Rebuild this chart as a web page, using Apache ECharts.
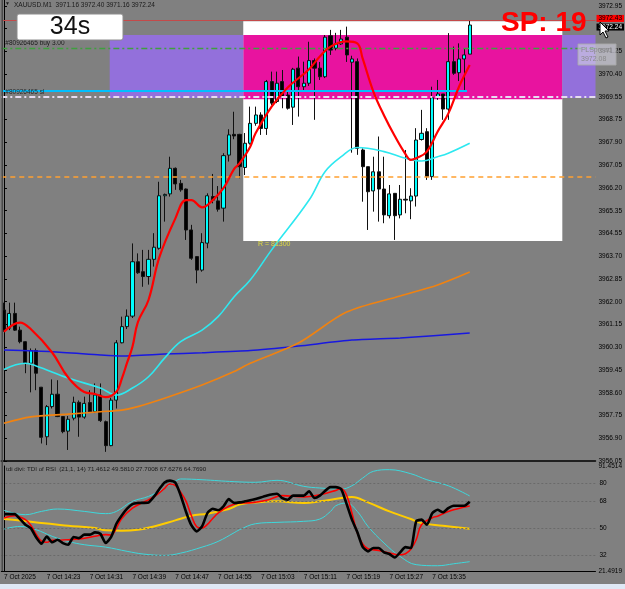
<!DOCTYPE html>
<html>
<head>
<meta charset="utf-8">
<script src="https://cdn.jsdelivr.net/npm/echarts@6/dist/echarts.min.js"></script>
<style>
html,body{margin:0;padding:0;background:#808080;}
#chart{width:625px;height:589px;}
</style>
</head>
<body>
<div id="chart"></div>
<script>
var BASE = 3956.05;      // lowest price label, used as zero of the price axis
var STEP = 0.845;        // price distance between labels
var SLOTS = 111;         // 88 bars + empty space on the right (chart shift)

var priceTicks = ['3956.05','3956.90','3957.75','3958.60','3959.45','3960.30','3961.15','3962.00',
  '3962.85','3963.70','3964.55','3965.35','3966.20','3967.05','3967.90','3968.75','3969.55',
  '3970.40','3971.25','3972.10','3972.95'];
var timeTicks = ['7 Oct 2025','7 Oct 14:23','7 Oct 14:31','7 Oct 14:39','7 Oct 14:47','7 Oct 14:55',
  '7 Oct 15:03','7 Oct 15:11','7 Oct 15:19','7 Oct 15:27','7 Oct 15:35'];

// M1 bars: open, high, low, close
var bars = [
  [3961.66,3961.93,3960.85,3960.91],[3960.98,3961.93,3960.91,3961.53],[3961.53,3961.93,3960.88,3960.91],
  [3960.91,3961.04,3960.42,3960.48],[3960.48,3960.50,3959.31,3959.68],[3959.68,3960.23,3958.60,3960.15],
  [3960.15,3960.23,3958.68,3959.31],[3958.79,3958.80,3956.70,3956.93],[3956.95,3958.13,3956.64,3958.07],
  [3958.07,3959.08,3958.00,3958.53],[3958.53,3959.05,3957.68,3957.70],[3957.70,3957.72,3957.08,3957.14],
  [3957.16,3957.72,3956.46,3957.60],[3957.64,3958.44,3957.56,3958.23],[3958.23,3958.30,3956.95,3957.68],
  [3957.68,3958.44,3957.62,3958.19],[3958.22,3958.68,3957.85,3957.88],[3957.88,3958.93,3957.83,3958.50],
  [3958.50,3958.93,3957.50,3957.55],[3957.51,3957.55,3956.39,3956.62],[3956.62,3958.40,3956.60,3958.31],
  [3958.31,3960.54,3958.00,3960.44],[3960.44,3961.41,3960.42,3961.04],[3961.04,3961.68,3960.95,3961.43],
  [3961.43,3964.13,3961.36,3963.45],[3963.45,3963.76,3963.00,3963.04],[3963.08,3963.89,3962.52,3962.90],
  [3962.90,3963.89,3962.60,3963.54],[3963.54,3964.51,3963.27,3963.99],[3963.95,3966.42,3963.90,3965.90],
  [3965.90,3965.98,3964.94,3965.95],[3965.97,3967.35,3965.87,3966.92],[3966.92,3966.95,3966.12,3966.34],
  [3966.36,3966.49,3966.05,3966.12],[3966.15,3966.17,3964.26,3964.63],[3964.63,3964.82,3963.52,3963.58],
  [3963.64,3963.66,3962.65,3963.14],[3963.14,3964.51,3963.08,3964.16],[3964.14,3965.99,3963.95,3965.90],
  [3965.87,3966.71,3965.62,3965.74],[3965.71,3966.26,3965.31,3965.40],[3965.44,3967.48,3964.94,3967.39],
  [3967.41,3968.37,3967.17,3968.16],[3968.18,3969.02,3968.00,3968.12],[3968.18,3968.20,3966.55,3966.98],
  [3966.95,3968.23,3966.67,3967.85],[3967.85,3969.21,3967.80,3968.59],[3968.59,3969.21,3968.50,3968.90],
  [3968.90,3969.00,3968.16,3968.40],[3968.40,3970.20,3968.16,3970.14],[3970.14,3970.51,3969.27,3969.34],
  [3969.40,3970.51,3969.34,3970.08],[3970.14,3970.57,3969.15,3969.58],[3969.64,3969.77,3969.10,3969.15],
  [3969.19,3970.65,3968.53,3970.60],[3970.64,3971.07,3968.84,3969.95],[3969.95,3970.88,3969.77,3970.08],
  [3970.08,3971.62,3969.98,3970.92],[3970.92,3971.00,3968.72,3970.64],[3970.64,3970.87,3970.20,3970.32],
  [3970.32,3971.87,3970.27,3971.79],[3971.84,3972.06,3971.13,3971.31],[3971.38,3971.95,3971.30,3971.54],
  [3971.54,3972.06,3971.50,3971.72],[3971.79,3972.18,3970.87,3971.13],[3970.86,3971.10,3967.50,3970.98],
  [3970.88,3971.00,3967.42,3967.66],[3967.60,3967.66,3965.68,3966.98],[3966.98,3966.98,3964.63,3966.05],
  [3966.08,3967.35,3965.31,3966.79],[3966.79,3968.10,3964.94,3966.15],[3966.15,3967.35,3964.88,3965.19],
  [3965.16,3966.30,3965.06,3965.97],[3965.99,3965.99,3964.26,3965.16],[3965.19,3966.30,3965.06,3965.77],
  [3965.77,3967.60,3965.25,3965.74],[3965.71,3966.18,3965.03,3965.89],[3965.89,3968.41,3965.50,3967.97],
  [3967.99,3969.09,3967.95,3968.22],[3968.28,3968.41,3966.49,3966.61],[3966.61,3969.95,3966.49,3969.54],
  [3969.56,3970.20,3969.46,3969.68],[3969.68,3969.68,3968.72,3969.12],[3969.12,3971.94,3968.72,3970.88],
  [3970.88,3971.44,3970.39,3970.45],[3970.47,3971.56,3970.16,3970.98],[3970.98,3971.38,3969.83,3971.13],
  [3971.16,3972.40,3971.16,3972.24]
];

// moving averages: [bar, price]
var maRed = [[0,3960.85],[3,3961.19],[5,3960.95],[9,3960.08],[12,3959.15],[15,3958.61],[17,3958.54],
  [19,3958.42],[21,3958.62],[22,3959.10],[23,3959.70],[24,3960.29],[25,3961.20],[27,3962.03],[29,3963.60],
  [32,3965.05],[34,3965.74],[35,3965.74],[37,3965.47],[39,3965.74],[41,3966.18],[43,3966.90],[44,3967.10],
  [46,3967.72],[47,3968.22],[50,3969.21],[53,3969.92],[57,3970.60],[59,3971.07],[61,3971.44],[64,3971.63],
  [66,3971.56],[67,3971.00],[69,3969.77],[71,3968.88],[73,3968.12],[75,3967.45],[76,3967.23],[77,3967.29],
  [79,3967.54],[81,3968.28],[83,3968.95],[85,3969.95],[87,3970.76]];
var maCyan = [[0,3959.45],[4,3959.68],[6,3959.58],[12,3959.13],[18,3958.76],[21,3958.50],[24,3958.76],
  [27,3959.18],[30,3959.87],[33,3960.48],[37,3960.91],[40,3961.41],[43,3962.15],[46,3962.77],[50,3963.89],
  [57,3965.74],[60,3966.80],[63,3967.35],[66,3967.69],[71,3967.54],[75,3967.29],[78,3967.19],[81,3967.35],
  [83,3967.48],[87,3967.85]];
var maOrange = [[0,3957.45],[5,3957.69],[12,3957.79],[18,3957.88],[22,3957.94],[25,3958.07],[30,3958.38],
  [37,3958.87],[43,3959.37],[46,3959.68],[55,3960.43],[64,3961.58],[74,3962.18],[81,3962.59],[87,3963.07]];
var maBlue = [[0,3960.17],[9,3960.11],[18,3959.99],[22,3959.95],[30,3960.02],[37,3960.07],[46,3960.15],
  [55,3960.32],[65,3960.54],[74,3960.62],[87,3960.80]];

// drawn objects: [fromBar, toBar, lowPrice, highPrice]
var zoneWhite = [44.7, 104.3, 3964.22, 3972.38];
var zonePink = [44.7, 104.3, 3969.48, 3971.87];
var zonePurpleL = [19.75, 44.7, 3969.53, 3971.87];
var zonePurpleR = [104.3, 110.5, 3969.53, 3971.87];
var askPrice = 3972.43, bidPrice = 3972.24, buyPrice = 3971.38, slPrice = 3969.57;
var blueLevel = [-0.5, 86.5, 3969.80];
var orangeLevel = 3966.60;

// TDI of RSI (21,1,14): [bar, value]
var tdiPrice = [[0,59.4],[2,59.4],[3,56.1],[4,52.3],[5,50],[6,44],[7,39.7],[8,44.5],[9,40.6],[10,42.3],
  [11,40.1],[12,39],[13,44.1],[14,43.4],[15,45.7],[16,45.7],[17,47.2],[18,46.3],[19,40.1],[20,44],[21,53],
  [22,58.5],[23,63],[24,66.1],[25,66.8],[27,67.2],[28,71],[29,76],[30,80.5],[31,81.7],[32,80.5],[33,72],
  [34,61],[35,52],[36,47.9],[37,51.2],[38,60.1],[39,63],[40,62],[41,64.6],[42,69.4],[43,66.8],[44,67.2],
  [45,67.9],[47,69.4],[49,71.7],[51,73],[52,70],[53,69],[54,71.7],[56,71.7],[57,74.6],[58,70.1],[59,71.7],
  [61,77.4],[62,77.4],[63,76],[64,66.2],[65,55.7],[66,47.5],[67,37.6],[68,34.6],[69,36.8],[70,36.8],
  [71,33.9],[72,32.8],[73,30.5],[74,33.9],[75,37.4],[76,36.8],[77,54.6],[78,55.7],[79,52.3],[80,60],
  [81,62.3],[82,60.6],[83,63.4],[84,65],[86,65],[87,67.6]];
var tdiSignal = [[0,56.8],[2,58.3],[4,55.7],[5,52],[6,46],[7,41.5],[8,40.6],[9,41.9],[12,42.3],[14,42.8],
  [17,44.6],[19,45.7],[20,45.5],[21,50.1],[22,56.5],[24,63.4],[26,67.2],[28,70.8],[30,76.5],[31,79.5],
  [32,78.5],[33,74],[34,68],[35,58.5],[36,51],[37,50.1],[38,52.5],[39,56.5],[40,60],[42,64.6],[44,66.8],
  [45,66.8],[49,68.6],[52,71.7],[56,70.8],[59,72.3],[62,75.2],[63,76.5],[64,72],[65,60],[66,47],[67,39.5],
  [68,36.3],[70,35.2],[72,33.4],[74,32.3],[75,33],[76,36],[77,42.3],[78,52.3],[80,57],[81,58],[83,61.2],
  [87,64.8]];
var tdiBase = [[0,56.1],[3,55.2],[7,53.4],[12,51.7],[17,50.1],[19,48.6],[22,48.3],[25,49],[28,51.2],
  [32,55.2],[35,58.3],[38,59.7],[42,62.8],[44,65.7],[47,67.2],[51,67.9],[56,66.8],[59,67.9],[63,70.1],
  [65,70.8],[68,67.2],[72,61.2],[76,56.1],[78,53.4],[82,51.7],[87,49.6]];
var tdiUpper = [[0,61.9],[4,59],[7,61.2],[10,62.8],[15,61.2],[19,59.7],[21,61.2],[24,67.9],[27,71.2],
  [30,76.8],[32,81.2],[33,82.8],[37,82.3],[43,81],[47,80.6],[51,81.9],[56,77.9],[59,76.8],[63,76.1],
  [65,78.3],[67,83.4],[69,87.9],[72,89],[76,86.3],[79,82.3],[83,78.3],[87,71.5]];
var tdiLower = [[0,49.4],[3,51.2],[6,49],[9,44.6],[12,41.2],[15,39],[19,37.4],[23,34.6],[26,32.8],
  [30,31.9],[33,33.4],[37,37.4],[40,41.2],[43,47],[44,49],[47,53],[51,53.9],[56,54.6],[59,56.1],[61,61.2],
  [62,65],[64,66.8],[66,61.2],[68,51.2],[71,40.1],[74,31.2],[77,25.7],[81,25],[84,26.3],[87,27.7]];
var tdiLevels = [80, 68, 50, 32];
var tdiMin = 21.4919, tdiMax = 91.4514;

var FONT = 'Liberation Sans';
var SMALL = 6.5;

function off(p) { return +(p - BASE).toFixed(4); }
function offPairs(arr) { return arr.map(function (d) { return [d[0], off(d[1])]; }); }

var cats = [];
for (var i = 0; i < SLOTS; i++) cats.push(String(i));

var candleData = bars.map(function (b) { return [off(b[0]), off(b[3]), off(b[2]), off(b[1])]; });

function zone(z, color) {
  return [{ xAxis: z[0], yAxis: off(z[2]), itemStyle: { color: color } }, { xAxis: z[1], yAxis: off(z[3]) }];
}
function timeInterval(idx) { return idx % 8 === 0 && idx <= 80; }

var chart = echarts.init(document.getElementById('chart'), null, { renderer: 'canvas' });

chart.setOption({
  backgroundColor: '#808080',
  animation: false,
  textStyle: { fontFamily: FONT },
  grid: [
    { left: 1.3, right: 28, top: 0, bottom: 128 },
    { left: 1.3, right: 28, top: 466, bottom: 18 }
  ],
  xAxis: [
    { type: 'category', gridIndex: 0, data: cats, boundaryGap: true, offset: 2,
      axisLine: { lineStyle: { color: '#000', width: 1.5 } }, axisTick: { show: false },
      axisLabel: { show: false }, splitLine: { show: false } },
    { type: 'value', gridIndex: 0, min: -0.5, max: SLOTS - 0.5, show: false },
    { type: 'category', gridIndex: 1, data: cats, boundaryGap: true,
      axisLine: { lineStyle: { color: '#000', width: 1 } },
      axisTick: { interval: timeInterval, alignWithLabel: true, length: 3, lineStyle: { color: '#000' } },
      axisLabel: { interval: timeInterval, align: 'left', margin: 3, fontSize: SMALL, color: '#000',
        fontFamily: FONT, formatter: function (v, idx) { return timeTicks[idx / 8] || ''; } },
      splitLine: { show: false } },
    { type: 'value', gridIndex: 1, min: -0.5, max: SLOTS - 0.5, show: false }
  ],
  yAxis: [
    { type: 'value', gridIndex: 0, position: 'right', min: 0, max: 17.12, interval: STEP,
      axisLine: { show: true, lineStyle: { color: '#000' } },
      axisTick: { show: true, length: 3, lineStyle: { color: '#000' } },
      axisLabel: { showMaxLabel: false, showMinLabel: true, margin: 3, fontSize: SMALL, color: '#000',
        fontFamily: FONT,
        formatter: function (v) {
          var k = Math.round(v / STEP);
          return Math.abs(v - k * STEP) < 0.01 ? (priceTicks[k] || '') : '';
        } },
      splitLine: { show: false } },
    { type: 'value', gridIndex: 1, position: 'right', min: tdiMin, max: tdiMax,
      axisLine: { show: true, lineStyle: { color: '#000' } }, axisTick: { show: false },
      axisLabel: { showMinLabel: true, showMaxLabel: true, margin: 3, fontSize: SMALL, color: '#000',
        fontFamily: FONT,
        formatter: function (v) {
          if (Math.abs(v - tdiMax) < 1e-6) return String(tdiMax);
          if (Math.abs(v - tdiMin) < 1e-6) return String(tdiMin);
          return '';
        } },
      splitLine: { show: false } }
  ],
  series: [
    { name: 'zones', type: 'line', xAxisIndex: 1, yAxisIndex: 0, data: [], z: 1, silent: true,
      markArea: { silent: true, data: [
        zone(zoneWhite, '#ffffff'),
        zone(zonePink, '#e8139f'),
        zone(zonePurpleL, '#9370db'),
        zone(zonePurpleR, '#9370db')
      ] } },
    { name: 'levels', type: 'line', xAxisIndex: 1, yAxisIndex: 0, data: [], z: 2, silent: true,
      markLine: { symbol: ['none', 'none'], silent: true, animation: false, data: [
        { yAxis: off(orangeLevel), lineStyle: { color: '#ffa030', type: [5, 4], width: 1.5 }, label: { show: false } },
        { yAxis: off(buyPrice), lineStyle: { color: '#3f9f3f', type: [6, 3, 2, 3], width: 1.3 },
          label: { position: 'insideStartTop', formatter: '#80926465 buy 3.00', color: '#1a1a1a',
            fontSize: SMALL, fontFamily: FONT, distance: [4, 1] } },
        { yAxis: off(slPrice), lineStyle: { color: '#e6dcf0', type: [6, 3, 2, 3], width: 2 },
          label: { position: 'insideStartTop', formatter: '#80926465 sl', color: '#2a2a2a',
            fontSize: SMALL, fontFamily: FONT, distance: [4, 1] } },
        [{ coord: [blueLevel[0], off(blueLevel[2])], lineStyle: { color: '#00bfff', width: 2, type: 'solid' },
           label: { show: false } },
         { coord: [blueLevel[1], off(blueLevel[2])] }],
        { yAxis: off(bidPrice), lineStyle: { color: 'rgba(0,0,0,0)', width: 0 },
          label: { position: 'end', distance: 1, offset: [0, 2], formatter: String(bidPrice), backgroundColor: '#000',
            color: '#fff', fontSize: SMALL, fontFamily: FONT, padding: [0, 2, 0, 2] } },
        { yAxis: off(askPrice), lineStyle: { color: '#c44a4a', width: 1, type: 'solid' },
          label: { position: 'end', distance: 1, offset: [0, -1.5], formatter: String(askPrice), backgroundColor: '#ff0000',
            color: '#000', fontSize: SMALL, fontFamily: FONT, padding: [0, 2, 0, 2] } }
      ] } },
    { name: 'XAUUSD', type: 'candlestick', xAxisIndex: 0, yAxisIndex: 0, data: candleData, z: 3,
      barWidth: 3.6,
      itemStyle: { color: '#00ffff', color0: '#000000', borderColor: '#111', borderColor0: '#111', borderWidth: 1 } },
    { name: 'maBlue', type: 'line', xAxisIndex: 1, yAxisIndex: 0, data: offPairs(maBlue), z: 4,
      showSymbol: false, smooth: 0.2, lineStyle: { color: '#1818e0', width: 1.5 } },
    { name: 'maOrange', type: 'line', xAxisIndex: 1, yAxisIndex: 0, data: offPairs(maOrange), z: 4,
      showSymbol: false, smooth: 0.3, lineStyle: { color: '#f08210', width: 1.6 } },
    { name: 'maCyan', type: 'line', xAxisIndex: 1, yAxisIndex: 0, data: offPairs(maCyan), z: 4,
      showSymbol: false, smooth: 0.4, lineStyle: { color: '#2ee8f0', width: 1.6 } },
    { name: 'maRed', type: 'line', xAxisIndex: 1, yAxisIndex: 0, data: offPairs(maRed), z: 5,
      showSymbol: false, smooth: 0.4, lineStyle: { color: '#ff0000', width: 2.2 } },

    { name: 'tdiLevels', type: 'line', xAxisIndex: 3, yAxisIndex: 1, data: [], z: 1, silent: true,
      markLine: { symbol: ['none', 'none'], silent: true, animation: false,
        lineStyle: { color: '#6a6a6a', type: [2, 2], width: 1 },
        label: { position: 'end', distance: 4, color: '#000', fontSize: SMALL, fontFamily: FONT,
          formatter: function (p) { return String(p.value); } },
        data: tdiLevels.map(function (v) { return { yAxis: v }; }) } },
    { name: 'upper', type: 'line', xAxisIndex: 3, yAxisIndex: 1, data: tdiUpper, z: 3,
      showSymbol: false, smooth: 0.4, lineStyle: { color: '#3ed8dc', width: 1 } },
    { name: 'lower', type: 'line', xAxisIndex: 3, yAxisIndex: 1, data: tdiLower, z: 3,
      showSymbol: false, smooth: 0.4, lineStyle: { color: '#3ed8dc', width: 1 } },
    { name: 'base', type: 'line', xAxisIndex: 3, yAxisIndex: 1, data: tdiBase, z: 4,
      showSymbol: false, smooth: 0.4, lineStyle: { color: '#ffcc00', width: 2 } },
    { name: 'signal', type: 'line', xAxisIndex: 3, yAxisIndex: 1, data: tdiSignal, z: 5,
      showSymbol: false, smooth: 0.4, lineStyle: { color: '#ff0000', width: 1.6 } },
    { name: 'price', type: 'line', xAxisIndex: 3, yAxisIndex: 1, data: tdiPrice, z: 6,
      showSymbol: false, smooth: 0.2, lineStyle: { color: '#000000', width: 2.6 } }
  ],
  graphic: [
    { type: 'rect', z: 50, shape: { x: 1.5, y: 0, width: 1.5, height: 571 }, style: { fill: '#4a4a4a' } },
    { type: 'rect', z: 50, shape: { x: 0, y: 584, width: 625, height: 5 }, style: { fill: '#dfe8f5' } },
    { type: 'text', z: 50, left: 5, top: 1, style: { text: '\u25BC', fontSize: 5, fill: '#1a1a1a' } },
    { type: 'text', z: 50, left: 14, top: 1.5, style: { text: 'XAUUSD.M1  3971.16 3972.40 3971.16 3972.24',
      fontSize: SMALL, fontFamily: FONT, fill: '#1a1a1a' } },
    { type: 'rect', z: 50, shape: { x: 17, y: 14, width: 106, height: 26, r: 2 },
      style: { fill: '#ffffff', stroke: '#8c8c8c', lineWidth: 1 } },
    { type: 'text', z: 51, x: 70, y: 27.5, style: { text: '34s', fontSize: 25, fontFamily: FONT, fill: '#111',
      align: 'center', verticalAlign: 'middle' } },
    { type: 'text', z: 60, x: 501, y: 23.5, style: { text: 'SP: 19', fontSize: 28, fontWeight: 'bold',
      fontFamily: FONT, fill: '#ff0000', verticalAlign: 'middle' } },
    { type: 'text', z: 50, left: 258, top: 241, style: { text: 'R = 81300', fontSize: 7, fontFamily: FONT,
      fill: '#e0dc40' } },
    { type: 'rect', z: 55, shape: { x: 578, y: 44, width: 38, height: 21 },
      style: { fill: 'rgba(214,212,226,0.6)', stroke: 'rgba(170,170,170,0.9)', lineWidth: 1 } },
    { type: 'text', z: 56, left: 581, top: 46, style: { text: 'FLSpread\n3972.08', fontSize: 7,
      fontFamily: FONT, fill: '#8a8a8a', lineHeight: 9 } },
    { type: 'polygon', z: 70, shape: { points: [[600, 22], [600, 35], [603, 32], [606, 38], [608, 37], [605, 31], [609, 31]] },
      style: { fill: '#ffffff', stroke: '#000', lineWidth: 1 } },
    { type: 'text', z: 50, left: 6, top: 466.5, style: {
      text: 'tdi divi: TDI of RSI  (21,1, 14) 71.4612 49.5810 27.7008 67.6276 64.7690',
      fontSize: 6.2, fontFamily: FONT, fill: '#1a1a1a' } }
  ]
});
</script>
</body>
</html>
